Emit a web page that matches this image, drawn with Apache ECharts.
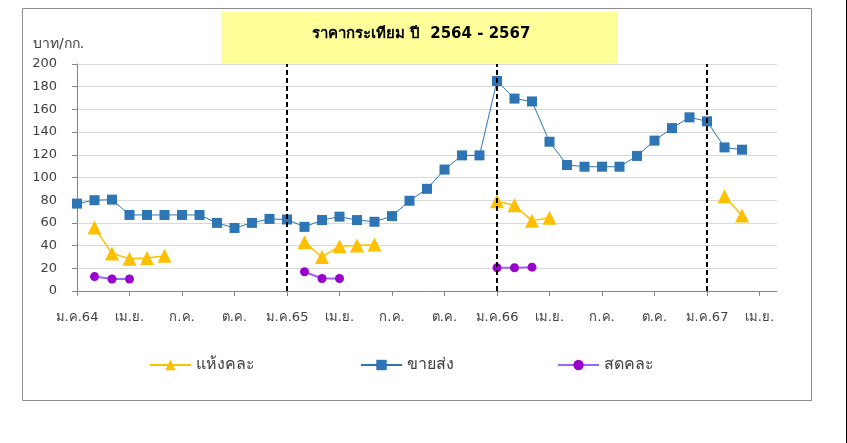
<!DOCTYPE html>
<html>
<head>
<meta charset="utf-8">
<script src="https://cdn.jsdelivr.net/npm/echarts@6/dist/echarts.min.js"></script>
<style>
html,body{margin:0;padding:0;background:#fff;}
#chart{width:847px;height:443px;}
</style>
</head>
<body>
<div id="chart"></div>
<script>
// Month categories (Jan 2564 .. May 2567)
const categories = [
  'ม.ค.64','ก.พ.64','มี.ค.64','เม.ย.64','พ.ค.64','มิ.ย.64','ก.ค.64','ส.ค.64','ก.ย.64','ต.ค.64','พ.ย.64','ธ.ค.64',
  'ม.ค.65','ก.พ.65','มี.ค.65','เม.ย.65','พ.ค.65','มิ.ย.65','ก.ค.65','ส.ค.65','ก.ย.65','ต.ค.65','พ.ย.65','ธ.ค.65',
  'ม.ค.66','ก.พ.66','มี.ค.66','เม.ย.66','พ.ค.66','มิ.ย.66','ก.ค.66','ส.ค.66','ก.ย.66','ต.ค.66','พ.ย.66','ธ.ค.66',
  'ม.ค.67','ก.พ.67','มี.ค.67','เม.ย.67','พ.ค.67'
];
// Labels shown every third month
const tickLabels = ['ม.ค.64','เม.ย.','ก.ค.','ต.ค.','ม.ค.65','เม.ย.','ก.ค.','ต.ค.','ม.ค.66','เม.ย.','ก.ค.','ต.ค.','ม.ค.67','เม.ย.'];
// Year boundaries (dashed lines)
const yearStarts = ['ม.ค.65','ม.ค.66','ม.ค.67'];

const dryMixed = [null,56,33,28.5,29,31,null,null,null,null,null,null,
  null,43,30,39.5,40,41,null,null,null,null,null,null,
  79,75.5,62,64.5,null,null,null,null,null,null,null,null,
  null,83.5,66.5,null,null];
const wholesale = [77,80,80.5,67,67,67,67,67,60,55.5,60,63.5,
  63,56.5,62.5,65.5,62.5,61,66,79.5,90,107,119.5,119.5,
  185,169.5,167,131.5,111,109.5,109.5,109.5,119,132.5,143.5,153,
  149.5,126.5,124.5,null,null];
const freshMixed = [null,12.7,10.6,10.6,null,null,null,null,null,null,null,null,
  null,17,11,11,null,null,null,null,null,null,null,null,
  20.5,20.5,21,null,null,null,null,null,null,null,null,null,
  null,null,null,null,null];

const seriesNames = ['แห้งคละ','ขายส่ง','สดคละ'];
const yTicks = {min:0, max:200, interval:20};

const FONT = 'Tahoma, "DejaVu Sans", "Noto Sans", sans-serif';
const chart = echarts.init(document.getElementById('chart'), null, {renderer:'canvas'});

const legendBase = {
  orient:'horizontal', itemWidth:41, itemHeight:13, top:352,
  textStyle:{fontFamily:FONT, fontSize:16, color:'#404040'},
  selectedMode:false
};

chart.setOption({
  animation:false,
  backgroundColor:'#ffffff',
  textStyle:{fontFamily:FONT},
  grid:{left:77, right:70, top:64, bottom:152, containLabel:false},
  legend:[
    Object.assign({}, legendBase, {left:144, data:[seriesNames[0]]}),
    Object.assign({}, legendBase, {left:355, data:[seriesNames[1]]}),
    Object.assign({}, legendBase, {left:552, data:[seriesNames[2]]})
  ],
  graphic:[
    {type:'rect', shape:{x:22.5,y:8.5,width:789,height:392}, style:{fill:'none', stroke:'#8c8c8c', lineWidth:1}, z:-10},
    {type:'rect', shape:{x:846,y:0,width:1,height:443}, style:{fill:'#000'}},
    {type:'rect', shape:{x:221,y:12,width:397,height:51}, style:{fill:'#FFFF99'}, z:-5},
    {type:'text', x:421, y:34, style:{text:'ราคากระเทียม ปี  2564 - 2567', fill:'#000', font:'bold 15px '+FONT, textAlign:'center', textVerticalAlign:'middle'}},
    {type:'text', x:33, y:44, style:{text:'บาท/กก.', fill:'#404040', font:'14px '+FONT, textAlign:'left', textVerticalAlign:'middle'}}
  ],
  xAxis:{
    type:'category', data:categories, boundaryGap:false,
    axisLine:{lineStyle:{color:'#868686'}},
    axisTick:{show:true, interval:2, length:5, lineStyle:{color:'#868686'}},
    axisLabel:{interval:2, margin:20, fontSize:13, color:'#404040', fontFamily:FONT,
      formatter:function(v, i){ return i % 3 === 0 ? tickLabels[i/3] : ''; }},
    splitLine:{show:false}
  },
  yAxis:{
    type:'value', min:yTicks.min, max:yTicks.max, interval:yTicks.interval,
    axisLine:{show:true, lineStyle:{color:'#868686'}},
    axisTick:{show:true, length:5, lineStyle:{color:'#868686'}},
    axisLabel:{margin:20, fontSize:13, color:'#404040', fontFamily:FONT},
    splitLine:{lineStyle:{color:'#d9d9d9'}}
  },
  series:[
    {
      name:seriesNames[0], type:'line', data:dryMixed, connectNulls:false,
      symbol:'triangle', symbolSize:14, showAllSymbol:true,
      lineStyle:{color:'#FFC000', width:1.5},
      itemStyle:{color:'#FFC000'},
      z:3
    },
    {
      name:seriesNames[1], type:'line', data:wholesale, connectNulls:false,
      symbol:'rect', symbolSize:10, showAllSymbol:true,
      lineStyle:{color:'#2E75B6', width:1},
      itemStyle:{color:'#2E75B6'},
      z:3,
      markLine:{
        silent:true, symbol:['none','none'], label:{show:false},
        lineStyle:{color:'#000', type:[5,3], width:2},
        data:yearStarts.map(function(c){ return {xAxis:c}; })
      }
    },
    {
      name:seriesNames[2], type:'line', data:freshMixed, connectNulls:false,
      symbol:'circle', symbolSize:9, showAllSymbol:true,
      lineStyle:{color:'#9966FF', width:2},
      itemStyle:{color:'#9900CC'},
      z:3
    }
  ]
});
</script>
</body>
</html>
